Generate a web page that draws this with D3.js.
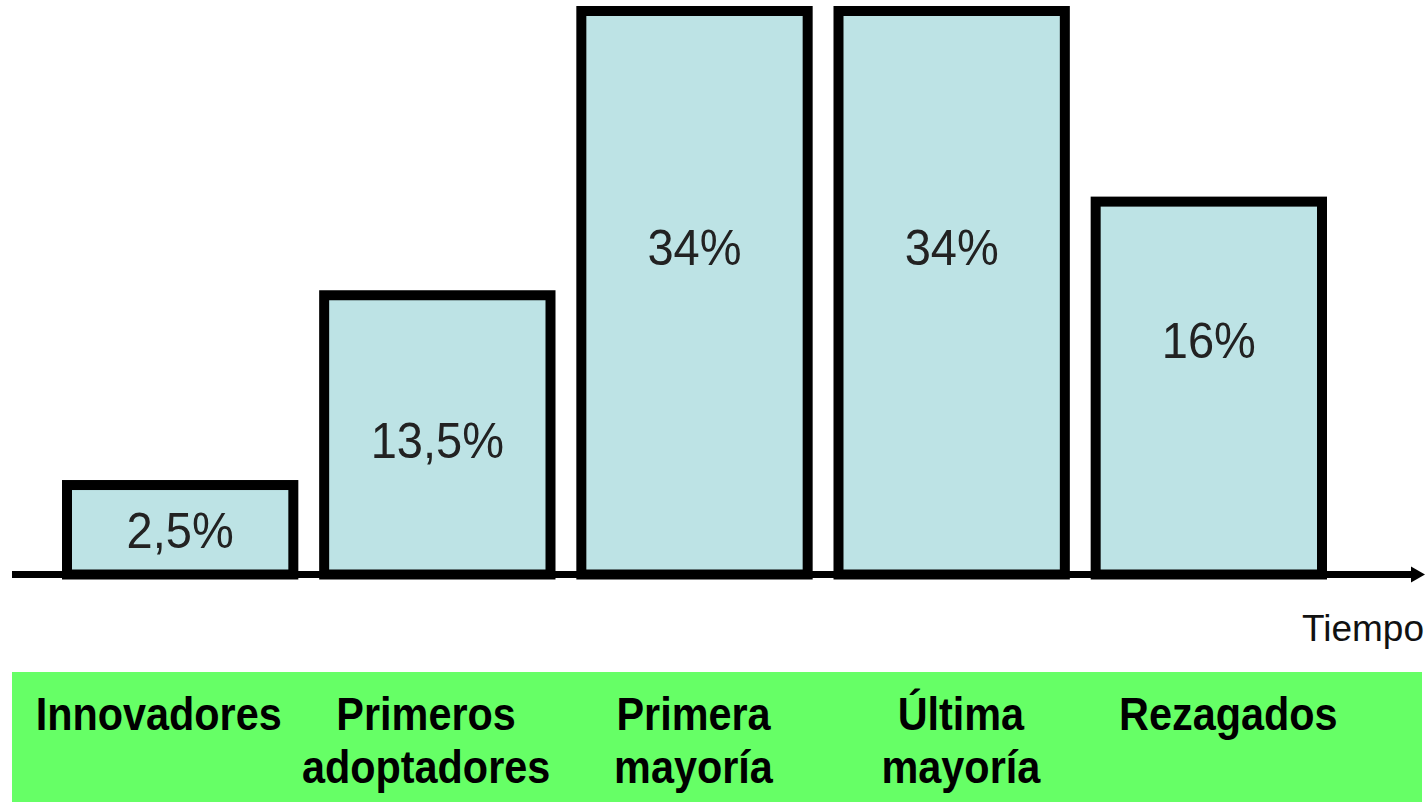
<!DOCTYPE html>
<html>
<head>
<meta charset="utf-8">
<script src="https://cdn.jsdelivr.net/npm/d3@7"></script>
<style>
  html, body { margin: 0; padding: 0; background: #fff; }
  svg { display: block; }
</style>
</head>
<body>
<svg id="chart" width="1425" height="802"></svg>
<script>
// ---- data ----
const categories = ["Innovadores", "Primeros adoptadores", "Primera mayoría", "Última mayoría", "Rezagados"];
const categoryLines = [["Innovadores"], ["Primeros", "adoptadores"], ["Primera", "mayoría"], ["Última", "mayoría"], ["Rezagados"]];
const shares = [2.5, 13.5, 34, 34, 16];                 // printed percentages
const drawnHeights = [5.65, 17.0, 34, 34, 22.6];        // bar heights as drawn (not to scale)
const labelLevels = [2.65, 8.05, 19.6, 19.6, 14.0];     // vertical position of the % text, same units
const axisLabel = "Tiempo";

// ---- layout ----
const svg = d3.select("#chart");
const baseY = 574.5, topY = 6;
const stroke = 10;

const x = d3.scaleBand().domain(categories).range([62, 1327]).paddingInner(0.081).paddingOuter(0);
const xLab = d3.scaleBand().domain(categories).range([25, 1362]);
const y = d3.scaleLinear().domain([0, 34]).range([baseY, topY]);

const fmt = v => d3.format(".1~f")(v).replace(".", ",") + "%";

// bars
svg.append("g").selectAll("rect").data(categories).join("rect")
  .attr("x", d => x(d) + stroke / 2)
  .attr("width", x.bandwidth() - stroke)
  .attr("y", (d, i) => y(drawnHeights[i]) + stroke / 2)
  .attr("height", (d, i) => baseY - y(drawnHeights[i]) - stroke / 2)
  .attr("fill", "#bde3e5")
  .attr("stroke", "#000")
  .attr("stroke-width", stroke);

// axis line with arrow
svg.append("line")
  .attr("x1", 12).attr("x2", 1414)
  .attr("y1", baseY).attr("y2", baseY)
  .attr("stroke", "#000").attr("stroke-width", 7);
svg.append("path")
  .attr("d", `M1411,${baseY - 8} L1425,${baseY} L1411,${baseY + 8} Z`)
  .attr("fill", "#000");

// percent labels
svg.append("g").selectAll("text").data(categories).join("text")
  .attr("transform", (d, i) => `translate(${x(d) + x.bandwidth() / 2},${y(labelLevels[i])}) scale(0.94,1)`)
  .attr("dy", "0.36em")
  .attr("text-anchor", "middle")
  .attr("font-family", "Liberation Sans, Arial, sans-serif")
  .attr("font-size", 50)
  .attr("fill", "#222")
  .text((d, i) => fmt(shares[i]));

// Tiempo
svg.append("text")
  .attr("x", 1424).attr("y", 641)
  .attr("text-anchor", "end")
  .attr("font-family", "Liberation Sans, Arial, sans-serif")
  .attr("font-size", 37)
  .attr("fill", "#111")
  .text(axisLabel);

// green category band
svg.append("rect")
  .attr("x", 12).attr("y", 672).attr("width", 1410).attr("height", 130)
  .attr("fill", "#66ff66");

const lab = svg.append("g").selectAll("text").data(categories).join("text")
  .attr("text-anchor", "middle")
  .attr("font-family", "Liberation Sans, Arial, sans-serif")
  .attr("font-weight", "bold")
  .attr("font-size", 46)
  .attr("fill", "#000")
  .attr("transform", d => `translate(${xLab(d) + xLab.bandwidth() / 2},730) scale(0.9,1)`);
lab.selectAll("tspan").data((d, i) => categoryLines[i]).join("tspan")
  .attr("x", 0)
  .attr("y", (d, j) => j * 53)
  .text(d => d);
</script>
</body>
</html>
